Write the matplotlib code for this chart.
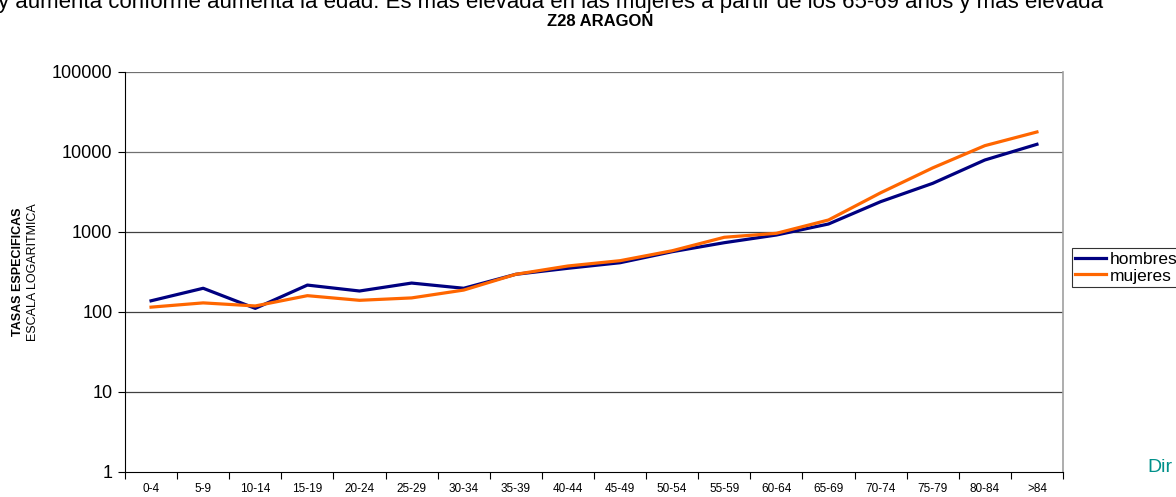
import matplotlib
matplotlib.use("Agg")
import matplotlib.pyplot as plt
from matplotlib.ticker import FixedLocator, NullFormatter

plt.rcParams['font.family'] = ['Liberation Sans', 'DejaVu Sans']

categories = ["0-4", "5-9", "10-14", "15-19", "20-24", "25-29", "30-34", "35-39",
              "40-44", "45-49", "50-54", "55-59", "60-64", "65-69", "70-74",
              "75-79", "80-84", ">84"]
hombres = [138, 198, 111, 217, 183, 230, 198, 296, 352, 413, 567, 735, 917,
           1259, 2393, 4058, 7943, 12480]
mujeres = [115, 130, 119, 160, 140, 150, 188, 296, 376, 438, 583, 859, 963,
           1413, 3090, 6330, 12000, 17800]
yticks = [1, 10, 100, 1000, 10000, 100000]
ytick_labels = ["1", "10", "100", "1000", "10000", "100000"]

W, H = 1176, 497
fig = plt.figure(figsize=(W / 100, H / 100), dpi=100)
ax = fig.add_axes([125 / W, 1 - 472 / H, (1063 - 125) / W, (472 - 72) / H])

x = [i + 0.5 for i in range(len(categories))]
ax.plot(x, hombres, color='#000080', lw=2.3, label='hombres', solid_joinstyle='round')
ax.plot(x, mujeres, color='#FF6600', lw=2.3, label='mujeres', solid_joinstyle='round')

ax.set_yscale('log')
ax.set_ylim(1, 100000)
ax.set_xlim(0, len(categories))
ax.set_yticks(yticks)
ax.set_yticklabels(ytick_labels, fontsize=13)
ax.yaxis.set_minor_locator(FixedLocator([]))
ax.yaxis.set_minor_formatter(NullFormatter())
ax.tick_params(axis='y', which='major', direction='out', length=5, width=0.8, pad=4)

ax.set_xticks(range(len(categories) + 1))
ax.set_xticklabels([])
ax.set_xticks(x, minor=True)
ax.set_xticklabels(categories, minor=True, fontsize=8.5)
ax.tick_params(axis='x', which='major', direction='out', length=5, width=0.8)
ax.tick_params(axis='x', which='minor', length=0, pad=8)

for v in yticks[1:]:
    ax.axhline(v, color='#404040' if v < 10000 else '#707070', lw=0.9, zorder=0)

ax.spines['top'].set_visible(False)
ax.spines['right'].set_color('#a0a0a0')
ax.spines['right'].set_linewidth(1.2)
ax.spines['left'].set_color('black')
ax.spines['bottom'].set_color('black')

leg = ax.legend(loc='upper left', bbox_to_anchor=(1072 / W, 1 - 248 / H),
                bbox_transform=fig.transFigure, fontsize=12.5, frameon=True,
                fancybox=False, edgecolor='black', borderpad=0.2,
                handlelength=1.75, handletextpad=0.2, labelspacing=0.1,
                borderaxespad=0)
leg.get_frame().set_linewidth(0.8)

fig.text(18 / W, 1 - 272 / H, "TASAS ESPECIFICAS", rotation=90, fontsize=9,
         fontweight='bold', ha='center', va='center')
fig.text(33 / W, 1 - 272 / H, "ESCALA LOGARITMICA", rotation=90, fontsize=9,
         ha='center', va='center')

fig.text(-2 / W, 1 - 8 / H,
         "y aumenta conforme aumenta la edad. Es más elevada en las mujeres a partir de los 65-69 años y más elevada",
         fontsize=16, ha='left', va='baseline')
fig.text(600 / W, 1 - 26 / H, "Z28 ARAGON", fontsize=12, fontweight='bold',
         ha='center', va='baseline')
fig.text(1147 / W, 1 - 468 / H, "Dir", fontsize=14, color='#00908A',
         ha='left', va='center')

fig.savefig("out.png", dpi=100)
